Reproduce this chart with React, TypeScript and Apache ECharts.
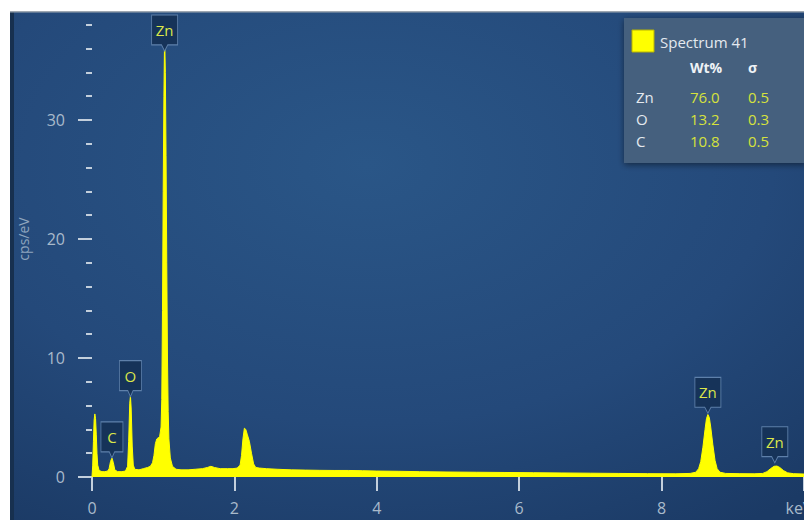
import React, { useEffect, useRef } from "react";
import * as echarts from "echarts";

// Spectrum trace: energy (keV) and intensity (cps/eV)
const spectrumKeV = [
  0.0, 0.01, 0.02, 0.03, 0.04, 0.05, 0.06, 0.07, 0.08, 0.1, 0.14, 0.18, 0.22, 0.24, 0.26, 0.28, 0.3, 0.32,
  0.36, 0.42, 0.47, 0.5, 0.515, 0.53, 0.54, 0.55, 0.565, 0.58, 0.6, 0.66, 0.72, 0.78, 0.82, 0.85, 0.87,
  0.89, 0.91, 0.93, 0.95, 0.97, 0.98, 0.99, 1.0, 1.01, 1.02, 1.03, 1.04, 1.05, 1.06, 1.07, 1.08, 1.1,
  1.13, 1.18, 1.25, 1.35, 1.45, 1.55, 1.62, 1.67, 1.72, 1.8, 1.9, 1.98, 2.04, 2.08, 2.1, 2.12, 2.14,
  2.16, 2.18, 2.21, 2.24, 2.27, 2.3, 2.35, 2.45, 2.6, 2.8, 3.0, 3.2, 3.4, 3.6, 3.8, 4.0, 4.3, 4.6, 5.0,
  5.4, 5.8, 6.2, 6.6, 7.0, 7.4, 7.8, 8.2, 8.4, 8.48, 8.52, 8.55, 8.58, 8.61, 8.63, 8.65, 8.67, 8.69,
  8.72, 8.75, 8.78, 8.82, 8.9, 9.1, 9.3, 9.42, 9.48, 9.53, 9.58, 9.62, 9.66, 9.71, 9.77, 9.85, 10.0,
];
const spectrumCps = [
  0.0, 1.0, 3.0, 4.8, 5.3, 4.9, 3.6, 2.0, 1.0, 0.55, 0.45, 0.45, 0.5, 0.7, 1.3, 1.6, 1.2, 0.6,
  0.45, 0.45, 0.5, 0.9, 3.0, 6.2, 6.8, 5.8, 2.6, 1.0, 0.65, 0.6, 0.7, 0.8, 0.9, 1.2, 1.8,
  2.8, 3.2, 3.3, 3.4, 4.2, 6.5, 14, 24, 32, 37.2, 34, 27, 18, 10, 5.5, 3.2, 1.6,
  0.9, 0.65, 0.6, 0.6, 0.65, 0.7, 0.8, 0.9, 0.8, 0.7, 0.7, 0.7, 0.75, 1.0, 1.8, 3.2, 4.1,
  4.0, 3.6, 3.0, 2.0, 1.1, 0.8, 0.75, 0.7, 0.65, 0.6, 0.58, 0.56, 0.55, 0.55, 0.53, 0.5, 0.48, 0.45, 0.42,
  0.4, 0.38, 0.36, 0.34, 0.32, 0.3, 0.28, 0.27, 0.3, 0.4, 0.7, 1.3, 2.5, 4.0, 4.9, 5.25, 5.0, 4.2,
  2.7, 1.4, 0.7, 0.4, 0.3, 0.28, 0.27, 0.3, 0.45, 0.7, 0.9, 0.92, 0.8, 0.55, 0.35, 0.28, 0.25,
];

// Peak identification labels
const peakNames = ["Zn", "O", "C", "Zn", "Zn"];
const peakKeV = [1.02, 0.54, 0.28, 8.65, 9.59];
const peakTipCps = [35.8, 6.75, 1.6, 5.35, 1.2];

// Quantification table
const legendTitle = "Spectrum 41";
const tableHeaders = ["Wt%", "σ"];
const tableElements = ["Zn", "O", "C"];
const wtPercent = [76.0, 13.2, 10.8];
const sigma = [0.5, 0.3, 0.5];

const yAxisName = "cps/eV";
const xUnit = "keV";

const FONT = "'Open Sans', 'Noto Sans', sans-serif";
const tickColor = "#c3cfdc";
const labelColor = "#a9bacb";

export default function App() {
  const ref = useRef<HTMLDivElement>(null);

  useEffect(() => {
    if (!ref.current) return;
    const chart = echarts.init(ref.current, undefined, { renderer: "svg" });

    const data = spectrumKeV.map((x, i) => [x, spectrumCps[i]]);
    const markData = peakNames.map((n, i) => ({
      name: n,
      coord: [peakKeV[i], peakTipCps[i]],
      symbolSize: [n.length > 1 ? 26 : 22, 36],
    }));

    const legendChildren: any[] = [
      {
        type: "rect",
        shape: { x: 624, y: 18, width: 182, height: 145 },
        style: { fill: "#44607e", shadowBlur: 6, shadowColor: "rgba(0,0,0,0.45)", shadowOffsetY: 2 },
      },
      {
        type: "rect",
        shape: { x: 632, y: 30, width: 22, height: 22 },
        style: { fill: "#ffff00", stroke: "#b9b400", lineWidth: 1 },
      },
      {
        type: "text",
        x: 660,
        y: 42,
        style: { text: legendTitle, fill: "#e4e9ef", font: `15px ${FONT}`, verticalAlign: "middle" },
      },
      {
        type: "text",
        x: 690,
        y: 67,
        style: { text: tableHeaders[0], fill: "#eef2f6", font: `bold 14px ${FONT}`, verticalAlign: "middle" },
      },
      {
        type: "text",
        x: 748,
        y: 67,
        style: { text: tableHeaders[1], fill: "#eef2f6", font: `bold 14px ${FONT}`, verticalAlign: "middle" },
      },
    ];
    tableElements.forEach((el, i) => {
      const y = 97 + i * 22;
      legendChildren.push(
        { type: "text", x: 636, y, style: { text: el, fill: "#e4e9ef", font: `15px ${FONT}`, verticalAlign: "middle" } },
        { type: "text", x: 690, y, style: { text: wtPercent[i].toFixed(1), fill: "#d6e23c", font: `15px ${FONT}`, verticalAlign: "middle" } },
        { type: "text", x: 748, y, style: { text: sigma[i].toFixed(1), fill: "#d6e23c", font: `15px ${FONT}`, verticalAlign: "middle" } }
      );
    });

    const option: any = {
      animation: false,
      graphic: [
        {
          type: "rect",
          z: -10,
          shape: { x: 10, y: 12, width: 794, height: 508 },
          style: {
            fill: new echarts.graphic.RadialGradient(0.45, 0.3, 0.85, [
              { offset: 0, color: "#2a5687" },
              { offset: 0.6, color: "#24497a" },
              { offset: 1, color: "#1b3a65" },
            ]),
          },
        },
        { type: "rect", z: -9, shape: { x: 10, y: 12, width: 4, height: 508 }, style: { fill: "#17304f" } },
        { type: "rect", z: 100, shape: { x: 0, y: 0, width: 804, height: 11 }, style: { fill: "#ffffff" } },
        { type: "rect", z: 100, shape: { x: 10, y: 11, width: 794, height: 1.5 }, style: { fill: "#9ea7b1" } },
        { type: "group", z: 50, children: legendChildren },
      ],
      grid: { left: 92, right: 0, top: 1, bottom: 43, containLabel: false, outerBoundsMode: "none" },
      xAxis: [
        {
          type: "value",
          min: 0,
          max: 10,
          interval: 2,
          offset: 3,
          axisLine: { show: false },
          axisTick: { show: true, length: 14, lineStyle: { color: tickColor, width: 2 } },
          axisLabel: {
            color: labelColor,
            fontSize: 16,
            fontFamily: FONT,
            margin: 20,
            showMaxLabel: true,
            formatter: (v: number) => (v === 10 ? `{u|${xUnit}}` : String(v)),
            rich: { u: { color: labelColor, fontSize: 16, fontFamily: FONT, padding: [0, 10, 0, 0] } },
          },
          splitLine: { show: false },
        },
        {
          type: "value",
          min: 0,
          max: 10,
          interval: 1,
          offset: 3,
          axisLine: { show: false },
          axisTick: { show: true, length: 10, lineStyle: { color: tickColor, width: 2 } },
          minorTick: { show: true, splitNumber: 5, length: 7, lineStyle: { color: tickColor, width: 2 } },
          axisLabel: { show: false },
          splitLine: { show: false },
        },
      ],
      yAxis: {
        type: "value",
        min: 0,
        max: 40,
        interval: 10,
        offset: 8,
        name: yAxisName,
        nameLocation: "middle",
        nameGap: 54,
        nameTextStyle: { color: "#8fa5be", fontSize: 14, fontFamily: FONT },
        axisLine: { show: false },
        axisTick: { show: true, length: 14, lineStyle: { color: tickColor, width: 2 } },
        minorTick: { show: true, splitNumber: 5, length: 6, lineStyle: { color: tickColor, width: 2 } },
        axisLabel: {
          color: labelColor,
          fontSize: 16,
          fontFamily: FONT,
          margin: 19,
          formatter: (v: number) => (v === 40 ? "" : String(v)),
        },
        splitLine: { show: false },
      },
      series: [
        {
          type: "line",
          xAxisIndex: 0,
          data,
          showSymbol: false,
          symbol: "none",
          lineStyle: { color: "#ffff00", width: 1 },
          areaStyle: { color: "#ffff00", opacity: 1 },
          markPoint: {
            symbol: "path://M0,0H100V83H62L50,100L38,83H0Z",
            symbolOffset: [0, -18],
            itemStyle: { color: "#163359", borderColor: "#5e80aa", borderWidth: 1 },
            label: {
              show: true,
              position: "inside",
              offset: [0, -3],
              color: "#dbe64a",
              fontSize: 15,
              fontFamily: FONT,
              formatter: (p: any) => p.name,
            },
            data: markData,
          },
        },
      ],
    };

    chart.setOption(option);
    return () => chart.dispose();
  }, []);

  return (
    <div
      ref={ref}
      style={{ position: "fixed", left: 0, top: 0, width: 804, height: 520, background: "#ffffff" }}
    />
  );
}
